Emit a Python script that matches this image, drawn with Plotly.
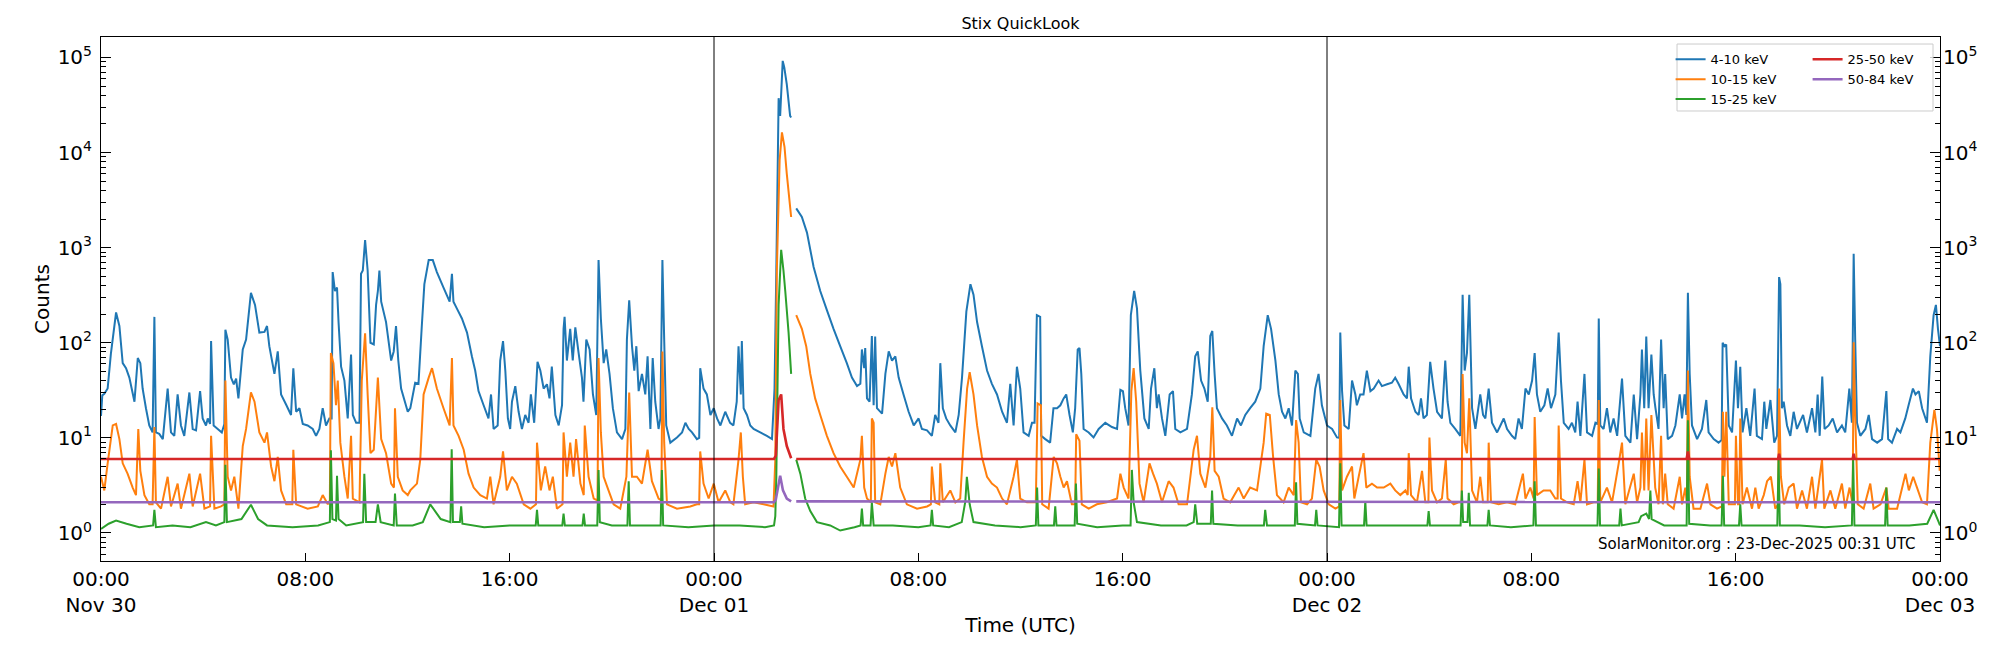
import plotly.graph_objects as go
import pandas as pd

START = pd.Timestamp("2025-11-30 00:00")
END = pd.Timestamp("2025-12-03 00:00")

labels = ["4-10 keV", "10-15 keV", "15-25 keV", "25-50 keV", "50-84 keV"]
colors = ["#1f77b4", "#ff7f0e", "#2ca02c", "#d62728", "#9467bd"]

# (hours since 2025-11-30 00:00 UTC, counts); None marks the data gap
blue_pts = [(0.00,17),(0.05,28),(0.13,29),(0.26,33),(0.39,78),(0.59,208),(0.72,150),(0.85,61),(0.98,54),(1.11,43),(1.31,24),(1.44,69),(1.54,61),(1.63,33),(1.76,20.5),(1.89,13.5),(2.02,11.4),(2.09,187),(2.15,11.4),(2.28,11),(2.42,9.7),(2.61,33),(2.74,11.4),(2.87,10.5),(3.0,28.6),(3.13,13.5),(3.26,10.5),(3.46,30),(3.59,12.4),(3.72,12),(3.88,31),(3.98,16),(4.11,13.5),(4.18,16),(4.27,14),(4.31,104),(4.41,13.5),(4.57,12.4),(4.73,11.4),(4.83,14),(4.87,137),(4.96,108),(5.09,43),(5.2,36.6),(5.29,42),(5.38,26),(5.55,85),(5.68,108),(5.87,335),(6.03,250),(6.2,128),(6.4,130),(6.5,150),(6.59,92),(6.79,47),(6.92,81),(7.05,28.6),(7.25,22.3),(7.44,17.4),(7.53,54),(7.64,18.8),(7.77,20.5),(7.9,14),(8.09,13.5),(8.29,12.4),(8.42,10.5),(8.55,12.4),(8.68,20.5),(8.81,13.5),(8.94,16),(9.03,16),(9.07,553),(9.16,350),(9.24,380),(9.3,165),(9.4,56),(9.53,40),(9.66,16),(9.79,75),(9.86,17.4),(9.99,14.4),(10.12,14.4),(10.18,530),(10.25,575),(10.34,1200),(10.44,575),(10.55,100),(10.68,96),(10.77,250),(10.84,350),(10.9,575),(10.97,270),(11.16,165),(11.36,65),(11.46,81),(11.55,150),(11.64,65),(11.75,33),(12.01,18.8),(12.11,20.5),(12.3,38),(12.43,37),(12.56,150),(12.66,413),(12.83,740),(12.99,740),(13.15,553),(13.41,380),(13.65,270),(13.74,530),(13.8,270),(13.93,230),(14.13,180),(14.33,128),(14.52,72),(14.65,51),(14.78,31),(14.98,22),(15.17,16),(15.27,28.6),(15.37,12.4),(15.53,13.5),(15.63,65),(15.74,104),(15.83,51),(15.93,16),(16.02,12.4),(16.09,24),(16.22,35),(16.35,18.8),(16.48,12.4),(16.61,17.4),(16.74,14.4),(16.83,28.6),(16.96,14.4),(17.09,63),(17.2,51),(17.33,33),(17.46,36.6),(17.56,26),(17.65,56),(17.79,17.4),(17.92,13.5),(18.05,22),(18.11,140),(18.15,187),(18.24,65),(18.37,140),(18.47,65),(18.57,145),(18.7,78),(18.83,43),(18.89,24),(19.0,108),(19.13,85),(19.26,28.6),(19.39,17.4),(19.48,740),(19.57,180),(19.68,61),(19.78,85),(19.91,47),(20.04,20.5),(20.2,11.4),(20.4,9.7),(20.53,12.4),(20.59,108),(20.68,280),(20.79,92),(20.88,51),(20.96,92),(21.05,31),(21.18,47),(21.31,28.6),(21.4,72),(21.51,12.4),(21.6,69),(21.7,24),(21.83,12.4),(21.9,16),(21.98,740),(22.05,108),(22.13,13.5),(22.29,8.9),(22.55,10.1),(22.75,11.4),(22.88,14.4),(23.01,12.4),(23.14,11.4),(23.33,9.7),(23.42,10),(23.46,54),(23.59,33),(23.72,28.6),(23.86,17.4),(23.99,20.5),(24.12,16),(24.25,13.5),(24.44,18.8),(24.63,14.4),(24.76,13.5),(24.89,24),(24.96,92),(25.05,28.6),(25.09,104),(25.16,20.5),(25.29,17.4),(25.42,13.5),(25.55,12.4),(25.81,11.4),(26.07,10.5),(26.27,9.7),(26.37,33),(26.44,575),(26.53,37300),(26.59,24300),(26.69,92000),(26.75,79000),(26.85,52000),(26.98,24300),(27.02,23400),(27.1,None),(27.22,2590),(27.44,2100),(27.64,1440),(27.9,627),(28.16,350),(28.42,220),(28.68,140),(28.94,92),(29.2,61),(29.4,43),(29.6,35),(29.73,37),(29.79,85),(29.88,54),(29.92,88),(29.99,26),(30.09,24),(30.18,118),(30.25,22),(30.31,116),(30.38,20.5),(30.58,18),(30.71,47),(30.84,81),(30.97,65),(31.1,72),(31.23,43),(31.42,28.6),(31.62,18.8),(31.82,13.5),(32.01,16),(32.14,12.4),(32.34,12),(32.53,10.5),(32.66,17.4),(32.79,14.4),(32.86,61),(32.96,20.5),(33.09,16),(33.25,13.5),(33.45,11.4),(33.58,17.4),(33.71,43),(33.88,212),(34.04,413),(34.16,320),(34.3,165),(34.49,92),(34.69,51),(34.88,37),(35.08,28.6),(35.28,18.8),(35.47,14.4),(35.6,37),(35.73,13.5),(35.86,56),(35.99,33),(36.12,11.4),(36.32,10.5),(36.45,14.4),(36.55,14.4),(36.64,195),(36.77,187),(36.81,10.5),(36.97,9.7),(37.16,8.9),(37.29,20.5),(37.43,20.5),(37.56,22),(37.69,26),(37.79,28.6),(37.92,17.4),(38.05,11.4),(38.14,20.5),(38.24,85),(38.31,88),(38.38,47),(38.47,12.4),(38.67,11.4),(38.86,10.1),(39.06,12.4),(39.32,14.4),(39.58,13),(39.78,12.4),(39.91,32),(40.01,31),(40.1,20.5),(40.23,13.5),(40.32,195),(40.45,350),(40.56,230),(40.69,51),(40.85,16),(41.02,12.4),(41.11,33),(41.24,54),(41.34,20.5),(41.41,28.6),(41.54,16),(41.67,10.5),(41.84,28.6),(41.97,31),(42.06,12.4),(42.26,11.4),(42.52,12.4),(42.71,28.6),(42.84,72),(42.94,81),(43.07,40),(43.2,33),(43.33,24),(43.43,118),(43.51,133),(43.6,47),(43.69,20.5),(43.89,16),(44.08,13.5),(44.28,10.5),(44.48,16),(44.63,13.5),(44.8,17.4),(44.99,20.5),(45.19,24),(45.39,33),(45.52,92),(45.68,195),(45.81,140),(45.98,65),(46.11,28.6),(46.24,18.8),(46.37,16),(46.5,20.5),(46.63,13.5),(46.76,51),(46.86,47),(46.93,16),(47.09,11.4),(47.35,10.5),(47.54,33),(47.67,47),(47.8,22),(48.0,13.5),(48.2,12.4),(48.39,10.1),(48.48,10),(48.52,128),(48.59,31),(48.68,13.5),(48.85,12.4),(48.98,40),(49.11,28.6),(49.17,22),(49.3,28.6),(49.43,28.6),(49.56,51),(49.7,31),(49.83,33),(50.02,40),(50.15,35),(50.35,36.6),(50.54,38),(50.67,43),(50.8,37),(51.0,28.6),(51.13,26),(51.2,56),(51.29,26),(51.46,18.8),(51.59,17.4),(51.68,26),(51.78,16),(51.91,17.4),(52.04,63),(52.17,33),(52.31,18.8),(52.5,16),(52.63,65),(52.72,24),(52.83,14.4),(53.02,12.4),(53.22,10.5),(53.31,320),(53.39,51),(53.48,78),(53.57,320),(53.68,20.5),(53.81,12.4),(54.0,28.6),(54.11,17.4),(54.2,16),(54.33,33),(54.46,14.4),(54.66,11.4),(54.79,13.5),(54.92,16),(55.05,12.4),(55.24,10.5),(55.37,9.7),(55.5,16),(55.63,12.4),(55.77,33),(55.9,28.6),(56.03,40),(56.13,78),(56.22,28.6),(56.35,18.8),(56.51,22),(56.64,33),(56.77,20.5),(56.94,28.6),(57.07,128),(57.16,40),(57.27,14.4),(57.46,12.4),(57.59,14.4),(57.72,11.4),(57.81,24),(57.92,10.5),(58.08,47),(58.18,11.4),(58.38,10.5),(58.51,14.4),(58.6,14),(58.64,180),(58.7,13.5),(58.83,12.4),(58.96,20.5),(59.09,11.4),(59.22,16),(59.36,10.5),(59.55,42),(59.68,10.5),(59.88,8.9),(60.01,28.6),(60.14,9.7),(60.27,28.6),(60.33,85),(60.42,20.5),(60.5,116),(60.59,20.5),(60.7,75),(60.79,28.6),(60.86,20.5),(60.98,12.4),(61.08,108),(61.18,20.5),(61.24,47),(61.34,9.7),(61.51,10.5),(61.64,13.5),(61.81,28.6),(61.9,16),(62.0,28.6),(62.07,17.4),(62.13,335),(62.2,47),(62.29,13.5),(62.49,9.7),(62.68,12.4),(62.85,25),(62.94,11.4),(63.14,9.7),(63.33,8.9),(63.45,9.5),(63.49,100),(63.56,92),(63.63,96),(63.73,13.5),(63.86,11.4),(64.01,65),(64.09,20.5),(64.18,56),(64.27,11.4),(64.42,20.5),(64.57,10.5),(64.74,33),(64.83,10.5),(65.03,9.7),(65.12,24),(65.2,12.4),(65.36,25),(65.51,8.9),(65.62,10.5),(65.7,490),(65.75,413),(65.81,20.5),(65.88,24),(66.01,13.5),(66.14,10.5),(66.27,18.8),(66.4,12.4),(66.64,17.4),(66.79,11.4),(66.99,20.5),(67.12,11.4),(67.21,28.6),(67.29,10.5),(67.39,44),(67.48,12.4),(67.64,13.5),(67.8,16),(67.97,11.4),(68.16,13.5),(68.29,11.4),(68.45,33),(68.55,14.4),(68.62,860),(68.68,108),(68.75,14.4),(68.88,10.5),(69.08,12.4),(69.21,17.4),(69.34,9.7),(69.54,8.9),(69.73,9.7),(69.9,31),(69.97,9.7),(70.12,8.9),(70.32,12.4),(70.45,11.4),(70.64,16),(70.77,22),(70.94,33),(71.04,28.6),(71.17,31),(71.3,20.5),(71.49,14.4),(71.62,72),(71.75,195),(71.84,250),(71.92,140),(72.0,92)]

orange_pts = [(0.0,3.9),(0.13,2.8),(0.26,5.4),(0.46,13.5),(0.59,14),(0.72,9.7),(0.85,5.4),(1.04,4.2),(1.24,3.0),(1.37,2.5),(1.46,12.4),(1.54,4.5),(1.7,2.5),(1.89,2.0),(2.02,2.0),(2.09,13),(2.15,2.1),(2.35,1.8),(2.61,3.9),(2.74,1.9),(3.0,3.3),(3.13,1.8),(3.46,4.2),(3.59,1.9),(3.88,4.2),(4.05,1.8),(4.27,1.9),(4.31,10.5),(4.44,1.8),(4.7,1.9),(4.83,2.0),(4.87,40),(4.96,3.9),(5.09,2.8),(5.22,3.9),(5.38,1.8),(5.55,8.2),(5.68,12.4),(5.87,30),(6.01,24),(6.2,11.4),(6.4,8.9),(6.5,11.4),(6.66,5),(6.79,3.5),(6.92,6.3),(7.05,2.8),(7.25,2.0),(7.49,2.0),(7.53,7.5),(7.64,2.0),(8.09,1.8),(8.49,1.9),(8.68,2.5),(8.88,2.0),(8.96,2.2),(9.0,78),(9.1,61),(9.2,22),(9.27,40),(9.37,8.9),(9.53,3.9),(9.66,2.3),(9.79,10.5),(9.86,2.3),(10.12,2.1),(10.21,40),(10.34,126),(10.44,28.6),(10.55,6.9),(10.68,7.5),(10.84,43),(10.97,9.7),(11.16,6.9),(11.36,3.3),(11.47,3.0),(11.51,20.5),(11.62,3.9),(11.81,2.8),(12.01,2.5),(12.11,2.8),(12.37,3.3),(12.5,5.9),(12.63,28.6),(12.83,43),(12.96,54),(13.15,33),(13.41,20.5),(13.65,13.5),(13.74,69),(13.8,13.5),(14.0,10.5),(14.2,7.5),(14.39,4.2),(14.59,3.0),(14.85,2.5),(15.11,2.3),(15.24,3.9),(15.37,2.0),(15.63,3.9),(15.74,7.2),(15.89,2.8),(16.09,3.9),(16.28,3.3),(16.55,2.0),(16.81,1.8),(17.03,2.0),(17.07,8.9),(17.22,2.8),(17.39,5.0),(17.56,2.8),(17.69,3.9),(17.85,1.8),(18.07,2.0),(18.11,11.4),(18.24,3.9),(18.37,8.9),(18.5,3.9),(18.6,9.7),(18.77,3.3),(18.9,2.5),(18.94,13.5),(19.09,3.9),(19.29,2.3),(19.44,2.2),(19.48,69),(19.57,11.4),(19.68,3.9),(19.87,2.8),(20.07,2.0),(20.33,1.8),(20.57,3.9),(20.68,30),(20.79,3.9),(20.98,3.9),(21.18,3.3),(21.4,7.5),(21.57,3.5),(21.83,2.3),(21.94,2.2),(21.98,81),(22.05,8.9),(22.16,2.0),(22.55,1.8),(23.07,1.9),(23.33,2.0),(23.42,2.0),(23.46,7.2),(23.59,3.3),(23.79,2.3),(23.99,3.3),(24.18,2.1),(24.44,2.8),(24.64,2.1),(24.76,2.0),(24.96,5.9),(25.05,11.4),(25.13,3.9),(25.22,2.0),(25.55,2.1),(25.94,2.0),(26.33,1.9),(26.4,5.9),(26.46,575),(26.57,8300),(26.66,16300),(26.76,11500),(26.85,5960),(27.02,2100),(27.1,None),(27.22,195),(27.44,140),(27.61,92),(27.77,47),(27.96,26),(28.16,17.4),(28.42,10.5),(28.68,6.9),(28.94,5.0),(29.2,3.9),(29.47,3.0),(29.73,5.9),(29.79,10.5),(29.88,3.0),(29.99,2.3),(30.14,2.1),(30.18,16),(30.25,14.4),(30.31,2.1),(30.51,2.0),(30.71,4.2),(30.84,6.3),(30.97,5.0),(31.1,6.9),(31.29,3.0),(31.55,2.0),(31.95,1.8),(32.34,1.9),(32.49,2.0),(32.53,5.0),(32.66,2.1),(32.82,2.0),(32.86,5.4),(32.96,2.1),(33.25,2.8),(33.45,2.1),(33.64,2.3),(33.77,8.9),(33.91,33),(34.01,49),(34.16,28.6),(34.3,13.5),(34.49,6.3),(34.69,3.9),(34.88,3.3),(35.08,3.0),(35.28,2.3),(35.47,2.0),(35.73,3.9),(35.86,5.9),(35.99,2.3),(36.25,2.1),(36.48,2.1),(36.6,2.1),(36.67,23),(36.8,22),(36.85,2.0),(37.1,1.8),(37.3,6.3),(37.43,5.4),(37.56,3.9),(37.69,3.0),(37.82,3.5),(38.01,2.0),(38.14,2.0),(38.18,10.9),(38.31,9.3),(38.4,2.0),(38.67,1.8),(38.99,2.0),(39.38,2.1),(39.78,2.3),(39.91,4.2),(40.04,3.0),(40.23,2.3),(40.34,31),(40.43,54),(40.53,24),(40.66,3.3),(40.82,2.1),(41.05,5.4),(41.19,4.2),(41.34,3.3),(41.54,2.1),(41.8,3.5),(41.99,3.0),(42.19,2.0),(42.52,2.0),(42.78,7.5),(42.91,10.5),(43.04,4.2),(43.24,3.0),(43.43,6.3),(43.51,21),(43.6,4.5),(43.76,3.9),(43.95,2.3),(44.21,2.1),(44.54,3.0),(44.74,2.3),(44.99,3.0),(45.26,2.8),(45.52,8.9),(45.62,18),(45.76,17.4),(45.89,6.3),(46.04,2.5),(46.3,2.1),(46.5,3.0),(46.7,2.5),(46.79,15.4),(46.89,8.9),(46.98,2.1),(47.22,2.0),(47.41,2.3),(47.58,5.9),(47.71,5.0),(47.87,2.8),(48.07,2.0),(48.33,1.8),(48.48,1.9),(48.52,25),(48.59,2.8),(48.78,3.9),(48.98,5.0),(49.07,2.3),(49.24,3.9),(49.43,6.9),(49.54,3.0),(49.76,3.3),(49.96,3.0),(50.22,3.0),(50.48,3.3),(50.67,2.8),(50.87,2.5),(51.07,2.8),(51.16,2.5),(51.2,6.9),(51.29,2.5),(51.52,2.1),(51.72,4.5),(51.85,2.1),(51.97,2.1),(52.01,10.1),(52.11,2.8),(52.31,2.1),(52.5,2.3),(52.65,5.9),(52.72,2.3),(52.96,2.0),(53.15,2.1),(53.27,2.1),(53.31,47),(53.39,8.9),(53.48,6.9),(53.57,26),(53.68,2.8),(53.87,2.1),(54.0,3.9),(54.11,2.1),(54.29,2.1),(54.33,8.9),(54.42,2.1),(54.72,2.0),(55.05,2.1),(55.37,2.0),(55.67,4.2),(55.77,2.3),(55.96,3.0),(56.09,2.3),(56.13,16.6),(56.22,2.5),(56.48,2.8),(56.74,2.8),(56.94,2.3),(57.03,2.3),(57.07,13.5),(57.16,2.3),(57.4,2.1),(57.66,2.0),(57.81,3.5),(57.92,2.1),(58.08,5.9),(58.18,2.0),(58.44,2.1),(58.6,2.1),(58.64,25),(58.7,2.1),(58.96,3.0),(59.16,2.1),(59.42,5.4),(59.55,8.9),(59.68,2.0),(60.01,4.2),(60.14,2.1),(60.27,3.0),(60.33,11.4),(60.42,2.8),(60.5,16),(60.59,2.8),(60.7,17.4),(60.85,3.0),(60.98,2.0),(61.08,10.5),(61.15,2.0),(61.24,4.2),(61.34,2.0),(61.57,1.8),(61.81,3.9),(61.9,2.0),(62.03,3.0),(62.09,2.0),(62.13,51),(62.2,3.9),(62.35,1.8),(62.62,1.8),(62.88,3.3),(63.01,2.0),(63.27,1.8),(63.46,1.9),(63.5,18.8),(63.56,3.9),(63.63,18.8),(63.73,2.0),(63.97,2.0),(64.01,10.5),(64.09,2.0),(64.14,2.0),(64.18,16),(64.27,2.0),(64.44,3.0),(64.64,1.8),(64.77,3.0),(64.9,1.8),(65.1,2.5),(65.23,3.5),(65.38,3.9),(65.55,1.8),(65.66,2.0),(65.7,33),(65.77,3.9),(65.9,2.0),(66.08,3.0),(66.27,3.3),(66.4,1.8),(66.6,2.8),(66.79,1.8),(66.99,3.9),(67.12,1.8),(67.38,5.9),(67.47,1.8),(67.71,2.8),(67.9,1.8),(68.16,3.3),(68.29,1.8),(68.46,3.0),(68.58,2.0),(68.62,101),(68.68,17.4),(68.78,2.0),(69.01,1.8),(69.27,3.3),(69.4,1.8),(69.67,2.0),(69.9,3.0),(69.99,1.8),(70.32,1.8),(70.65,4.2),(70.78,2.8),(70.95,3.9),(71.1,3.0),(71.3,2.1),(71.49,2.0),(71.62,8.9),(71.78,19.7),(71.88,12.4),(71.99,4.5)]

green_pts = [(0.0,1.1),(0.3,1.25),(0.59,1.35),(1.0,1.25),(1.5,1.15),(2.04,1.2),(2.09,1.75),(2.15,1.15),(2.8,1.2),(3.5,1.15),(4.11,1.3),(4.5,1.2),(4.83,1.3),(4.87,5.2),(4.93,1.3),(5.5,1.4),(5.87,1.98),(6.15,1.4),(6.5,1.2),(7.5,1.15),(8.5,1.2),(8.96,1.3),(9.0,7.4),(9.06,1.4),(9.2,1.35),(9.24,4.0),(9.3,1.4),(9.6,1.2),(10.26,1.3),(10.31,4.2),(10.38,1.3),(10.75,1.3),(10.84,2.0),(10.95,1.3),(11.46,1.2),(11.51,2.6),(11.58,1.2),(12.2,1.2),(12.6,1.3),(12.89,2.0),(13.3,1.4),(13.68,1.3),(13.73,7.6),(13.78,1.3),(14.05,1.3),(14.1,1.9),(14.15,1.25),(15.0,1.15),(16.0,1.2),(17.02,1.2),(17.07,1.75),(17.12,1.2),(18.06,1.2),(18.11,1.6),(18.16,1.2),(18.85,1.2),(18.9,1.6),(18.95,1.2),(19.43,1.2),(19.48,4.6),(19.53,1.3),(20.0,1.2),(20.61,1.2),(20.66,3.5),(20.71,1.2),(21.3,1.2),(21.91,1.2),(21.96,4.6),(22.01,1.2),(23.0,1.15),(24.0,1.2),(25.0,1.2),(26.0,1.15),(26.35,1.2),(26.4,1.5),(26.44,3.9),(26.53,250),(26.63,950),(26.72,575),(26.79,350),(26.92,128),(27.02,47),(27.1,None),(27.22,5.9),(27.38,4.2),(27.57,2.3),(27.77,1.7),(28.03,1.3),(28.55,1.2),(28.94,1.06),(29.5,1.15),(29.74,1.2),(29.79,1.8),(29.84,1.2),(30.13,1.2),(30.18,2.1),(30.25,1.2),(31.0,1.2),(32.0,1.15),(32.48,1.2),(32.53,1.75),(32.58,1.2),(33.2,1.15),(33.7,1.3),(33.84,2.15),(33.9,3.9),(34.01,2.0),(34.16,1.3),(35.0,1.2),(36.0,1.15),(36.6,1.2),(36.65,3.0),(36.7,1.2),(37.31,1.2),(37.36,1.9),(37.41,1.2),(38.12,1.2),(38.17,3.3),(38.22,1.25),(39.0,1.15),(40.0,1.2),(40.31,1.2),(40.36,4.6),(40.43,2.1),(40.56,1.3),(41.5,1.2),(42.5,1.2),(42.78,1.3),(42.84,2.0),(42.92,1.25),(43.45,1.25),(43.5,2.8),(43.55,1.25),(44.5,1.2),(45.53,1.2),(45.58,1.75),(45.65,1.2),(46.74,1.2),(46.79,3.4),(46.84,1.25),(47.53,1.2),(47.58,1.75),(47.63,1.2),(48.47,1.15),(48.52,5.4),(48.57,1.2),(49.45,1.2),(49.5,2.15),(49.55,1.2),(50.5,1.2),(51.93,1.2),(51.98,1.7),(52.03,1.2),(53.23,1.2),(53.28,2.8),(53.33,1.3),(53.5,1.3),(53.55,2.65),(53.6,1.2),(54.28,1.2),(54.33,1.75),(54.38,1.2),(55.2,1.15),(56.08,1.2),(56.13,3.5),(56.18,1.2),(57.4,1.2),(58.59,1.2),(58.64,4.75),(58.69,1.2),(59.44,1.2),(59.49,1.8),(59.54,1.2),(60.2,1.3),(60.3,1.5),(60.5,1.6),(60.61,1.4),(60.66,2.8),(60.71,1.4),(61.2,1.2),(62.08,1.2),(62.13,15.3),(62.18,1.25),(63.0,1.2),(63.45,1.2),(63.5,4.0),(63.55,1.2),(64.13,1.2),(64.18,2.0),(64.23,1.2),(65.0,1.2),(65.63,1.2),(65.68,5.9),(65.73,1.2),(66.5,1.2),(67.5,1.15),(68.55,1.2),(68.6,5.9),(68.65,1.2),(69.3,1.2),(69.85,1.2),(69.9,3.0),(69.95,1.2),(70.8,1.2),(71.5,1.25),(71.75,1.75),(71.95,1.3),(72.0,1.2)]

red_pts = [(0.0,6.0),(12.0,6.0),(26.35,6.0),(26.42,6.5),(26.53,25),(26.63,28.6),(26.72,12.4),(26.85,8.2),(27.02,6.1),(27.1,None),(27.22,6.0),(48.0,6.0),(62.08,6.0),(62.13,7.2),(62.18,6.0),(65.66,6.0),(65.7,6.8),(65.74,6.0),(68.58,6.0),(68.62,6.8),(68.66,6.0),(72.0,6.0)]

purple_pts = [(0.0,2.1),(26.35,2.1),(26.42,2.25),(26.59,4.0),(26.7,2.8),(26.85,2.3),(27.02,2.15),(27.1,None),(27.22,2.15),(72.0,2.1)]

tick_hours = [0, 8, 16, 24, 32, 40, 48, 56, 64, 72]
tick_text = ["00:00<br>Nov 30", "08:00", "16:00", "00:00<br>Dec 01", "08:00", "16:00",
             "00:00<br>Dec 02", "08:00", "16:00", "00:00<br>Dec 03"]
day_line_hours = [24, 48]
decades = [1, 10, 100, 1000, 10000, 100000]
decade_text = ["10<sup>0</sup>", "10<sup>1</sup>", "10<sup>2</sup>", "10<sup>3</sup>",
               "10<sup>4</sup>", "10<sup>5</sup>"]

YMIN, YMAX = 0.507, 1.64e5


def to_time(h):
    return START + pd.Timedelta(hours=h)


def unzip(pts):
    return [to_time(p[0]) for p in pts], [p[1] for p in pts]


series = [blue_pts, orange_pts, green_pts, red_pts, purple_pts]
legend_of = ["legend", "legend", "legend", "legend2", "legend2"]
axis_of = ["y", "y", "y", "y2", "y2"]
widths = [2, 2, 2, 2.6, 2.6]

fig = go.Figure()
for pts, name, col, lg, ax, w in zip(series, labels, colors, legend_of, axis_of, widths):
    x, y = unzip(pts)
    fig.add_trace(go.Scatter(x=x, y=y, mode="lines", name=name, legend=lg, yaxis=ax,
                             line=dict(color=col, width=w, simplify=False), connectgaps=False,
                             hoverinfo="skip"))

minor_vals = [k * 10 ** d for d in range(-1, 6) for k in range(2, 10)
              if YMIN <= k * 10 ** d <= YMAX]

yax_common = dict(
    type="log", range=[-0.295, 5.215], tickmode="array", tickvals=decades, ticktext=decade_text,
    ticks="inside", ticklen=10, tickwidth=1, tickcolor="black",
    minor=dict(ticks="inside", ticklen=5, tickwidth=1, tickcolor="black", tickmode="array",
               tickvals=minor_vals, showgrid=False),
    showline=True, linecolor="black", linewidth=1, showgrid=False, zeroline=False,
    tickfont=dict(size=20, family="DejaVu Sans", color="black"),
)

fig.update_layout(
    width=2000, height=650, autosize=False,
    margin=dict(l=101, r=60, t=37, b=89, pad=0),
    paper_bgcolor="white", plot_bgcolor="white",
    font=dict(family="DejaVu Sans", size=20, color="black"),
    hovermode=False,
    title=dict(text="Stix QuickLook", x=0.5, xref="paper", xanchor="center",
               y=1 - 23 / 650, yref="container", yanchor="middle",
               font=dict(size=16, family="DejaVu Sans", color="black")),
    xaxis=dict(type="date", range=[START, END], tickmode="array",
               tickvals=[to_time(h) for h in tick_hours], ticktext=tick_text,
               ticks="inside", ticklen=8, tickwidth=1, tickcolor="black",
               showline=True, linecolor="black", linewidth=1, mirror=True,
               showgrid=False, zeroline=False,
               tickfont=dict(size=20, family="DejaVu Sans", color="black"),
               title=dict(text="Time (UTC)", standoff=1,
                          font=dict(size=20, family="DejaVu Sans", color="black"))),
    yaxis=dict(**yax_common, side="left", mirror=True, ticklabelstandoff=4,
               title=dict(text="Counts", standoff=2,
                          font=dict(size=20, family="DejaVu Sans", color="black"))),
    yaxis2=dict(**yax_common, side="right", overlaying="y", anchor="x", ticklabelstandoff=-2),
    showlegend=True,
    legend=dict(x=0.8535, y=0.986, xanchor="left", yanchor="top", bgcolor="rgba(0,0,0,0)",
                borderwidth=0, font=dict(size=13, family="DejaVu Sans", color="black"),
                tracegroupgap=0, itemwidth=30),
    legend2=dict(x=0.928, y=0.986, xanchor="left", yanchor="top", bgcolor="rgba(0,0,0,0)",
                 borderwidth=0, font=dict(size=13, family="DejaVu Sans", color="black"),
                 tracegroupgap=0, itemwidth=30),
    shapes=[dict(type="line", xref="x", yref="paper", x0=to_time(h), x1=to_time(h), y0=0, y1=1,
                 line=dict(color="black", width=1)) for h in day_line_hours]
    + [dict(type="rect", xref="paper", yref="paper", x0=0.857, x1=0.9962, y0=0.8588, y1=0.9866,
            line=dict(color="#cccccc", width=1), fillcolor="rgba(255,255,255,0.8)", layer="above")],
    annotations=[dict(text="SolarMonitor.org : 23-Dec-2025 00:31 UTC", xref="paper", yref="paper",
                      x=0.9875, y=0.032, xanchor="right", yanchor="middle", showarrow=False,
                      font=dict(size=15, family="DejaVu Sans", color="black"))],
)

fig.write_html("out.html")
